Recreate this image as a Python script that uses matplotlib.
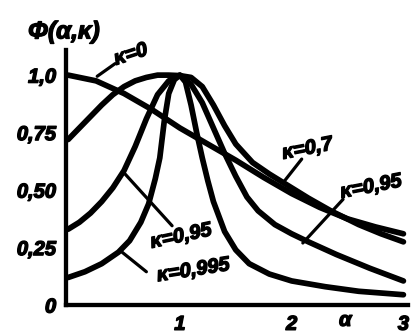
import matplotlib
matplotlib.use("Agg")
import matplotlib.pyplot as plt
import matplotlib.patheffects as pe

plt.rcParams['font.family'] = ['Liberation Sans', 'DejaVu Sans']

# Φ(α, κ) curves, read as (α, Φ) pairs
alpha_k0 = [0.0, 0.25, 0.5, 0.75, 1.0, 1.25, 1.5, 1.75, 2.0, 2.25, 2.5, 2.75, 3.0]
phi_k0 = [1.0, 0.975, 0.92, 0.85, 0.77, 0.70, 0.63, 0.555, 0.485, 0.425, 0.375, 0.34, 0.31]

alpha_k07 = [0.0, 0.1, 0.2, 0.3, 0.4, 0.5, 0.6, 0.7, 0.8, 0.9, 1.0, 1.1, 1.2, 1.3,
             1.4, 1.5, 1.65, 1.8, 1.95, 2.15, 2.35, 2.6, 2.8, 3.0]
phi_k07 = [0.72, 0.77, 0.82, 0.87, 0.915, 0.95, 0.975, 0.99, 1.0, 1.0, 0.998, 0.99,
           0.95, 0.87, 0.78, 0.70, 0.62, 0.57, 0.525, 0.465, 0.41, 0.35, 0.31, 0.275]

alpha_k095 = [0.0, 0.1, 0.2, 0.3, 0.4, 0.5, 0.6, 0.7, 0.8, 0.9, 1.0, 1.1, 1.2, 1.3,
              1.4, 1.5, 1.6, 1.7, 1.85, 2.0, 2.15, 2.4, 2.7, 3.0]
phi_k095 = [0.33, 0.36, 0.40, 0.45, 0.51, 0.585, 0.69, 0.81, 0.915, 0.975, 1.0, 0.96,
            0.88, 0.77, 0.66, 0.56, 0.47, 0.41, 0.35, 0.31, 0.275, 0.22, 0.16, 0.105]

alpha_k0995 = [0.0, 0.15, 0.3, 0.45, 0.55, 0.65, 0.72, 0.78, 0.82, 0.86, 0.9, 0.95, 1.0,
               1.05, 1.1, 1.15, 1.2, 1.25, 1.3, 1.4, 1.5, 1.62, 1.8, 2.0, 2.3, 2.6, 3.0]
phi_k0995 = [0.12, 0.145, 0.18, 0.23, 0.28, 0.36, 0.44, 0.55, 0.64, 0.80, 0.92, 0.98, 1.0,
             0.97, 0.87, 0.75, 0.64, 0.54, 0.45, 0.32, 0.24, 0.18, 0.135, 0.105, 0.08, 0.06, 0.045]

y_ticks = [0.0, 0.25, 0.5, 0.75, 1.0]
y_tick_labels = ["0", "0,25", "0,50", "0,75", "1,0"]
x_ticks = [1, 2, 3]
x_tick_labels = ["1", "2", "3"]

# curve labels: text, text position, leader start, leader end, rotation
curve_labels = [
    ("κ=0", (0.56, 1.09), (0.42, 1.05), (0.26, 0.995), 18),
    ("κ=0,7", (2.14, 0.68), (2.09, 0.635), (1.92, 0.53), 11),
    ("κ=0,95", (2.71, 0.515), (2.46, 0.46), (2.10, 0.27), 11),
    ("κ=0,95", (1.01, 0.30), (0.93, 0.345), (0.50, 0.575), 12),
    ("κ=0,995", (1.12, 0.152), (0.70, 0.145), (0.47, 0.235), 9),
]

ink = [pe.withStroke(linewidth=1.0, foreground="black")]

fig = plt.figure(figsize=(4.12, 3.36), dpi=100)
ax = fig.add_axes([0.160, 0.092, 0.830, 0.759])

lw = 4.1
for a, p in [(alpha_k0, phi_k0), (alpha_k07, phi_k07),
             (alpha_k095, phi_k095), (alpha_k0995, phi_k0995)]:
    ax.plot(a, p, color="black", lw=lw, solid_capstyle="round",
            solid_joinstyle="round")

txt_kw = dict(fontweight="bold", style="italic", color="black")
for text, (tx, ty), (sx, sy), (ex, ey), rot in curve_labels:
    ax.plot([sx, ex], [sy, ey], color="black", lw=2.3, solid_capstyle="round",
            clip_on=False)
    ax.text(tx, ty, text, ha="center", va="center", rotation=rot,
            fontsize=14.5, clip_on=False, path_effects=ink, **txt_kw)

ax.set_xlim(-0.02, 3.04)
ax.set_ylim(0, 1.109)

for side in ("top", "right"):
    ax.spines[side].set_visible(False)
for side in ("left", "bottom"):
    ax.spines[side].set_linewidth(3.1)

ax.set_yticks(y_ticks)
ax.set_yticklabels(y_tick_labels, fontsize=14.5, **txt_kw)
ax.set_xticks(x_ticks)
ax.set_xticklabels(x_tick_labels, fontsize=14.5, **txt_kw)
for lab in ax.get_xticklabels() + ax.get_yticklabels():
    lab.set_path_effects(ink)
ax.tick_params(axis="both", which="major", length=0, pad=7)
ax.set_xticks([1, 2], minor=True)
ax.set_yticks([0.25, 0.5], minor=True)
ax.tick_params(axis="both", which="minor", direction="in", length=9, width=2.3)

ax.text(2.48, -0.025, "α", ha="center", va="top", fontsize=14.5,
        transform=ax.transData, clip_on=False, path_effects=ink, **txt_kw)
fig.text(0.155, 0.905, "Φ(α,κ)", ha="center", va="center", fontsize=17.5,
         path_effects=ink, **txt_kw)

fig.savefig("out.png", dpi=100)
